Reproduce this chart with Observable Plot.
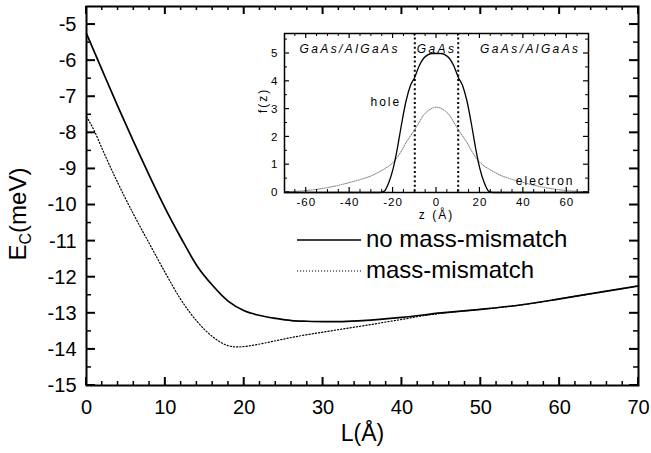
<!DOCTYPE html>
<html><head><meta charset="utf-8">
<script src="https://cdn.jsdelivr.net/npm/d3@7"></script>
<script src="https://cdn.jsdelivr.net/npm/@observablehq/plot@0.6"></script>
<style>
body{margin:0;background:#fff;}
#wrap{position:relative;width:651px;height:453px;overflow:hidden;}
#wrap > svg{position:absolute;left:0;top:0;}
#inset{position:absolute;left:220px;top:20px;}
</style></head><body><div id="wrap"><div id="inset"></div></div>
<script>
// ---- main chart data ----
const L = [0,2,4,6,8,10,12,14,16,18,20,22,24,26,28,30,32,35,40,45,50,55,60,65,70];
const noMismatch = [-5.25,-6.27,-7.28,-8.26,-9.2,-10.1,-10.92,-11.68,-12.23,-12.67,-12.93,-13.06,-13.14,-13.2,-13.22,-13.23,-13.23,-13.2,-13.11,-12.99,-12.89,-12.77,-12.6,-12.42,-12.24];
const Lm = [0,1,2,4,6,8,10,12,14,16,18,19,20,22,24,26,28,30,32,35,38,40,42,45,50,55,60,65,70];
const mismatch = [-7.55,-7.95,-8.45,-9.4,-10.27,-11.08,-11.88,-12.63,-13.22,-13.65,-13.9,-13.93,-13.92,-13.85,-13.76,-13.67,-13.59,-13.52,-13.45,-13.35,-13.24,-13.17,-13.09,-13.0,-12.89,-12.77,-12.6,-12.42,-12.24];
const xTicks = [0,10,20,30,40,50,60,70];
const yTicks = [-15,-14,-13,-12,-11,-10,-9,-8,-7,-6,-5];
const legendLabels = ["no mass-mismatch","mass-mismatch"];
const xTitle = "L(Å)";

// ---- inset data ----
const z = [-70,-60,-50,-45,-40,-35,-30,-26,-24,-22,-20,-18,-16,-14,-12,-10,-8,-6,-4,-2,0,2,4,6,8,10,12,14,16,18,20,22,24,26,30,35,40,45,50,60,70];
const hole = [0,0,0,0,0,0,0,0,0.05,0.35,0.85,1.6,2.5,3.3,3.85,4.15,4.55,4.82,4.95,5.0,5.0,5.0,4.95,4.82,4.55,4.15,3.85,3.3,2.5,1.6,0.85,0.35,0.05,0,0,0,0,0,0,0,0];
const electron = [0.03,0.07,0.18,0.26,0.36,0.47,0.6,0.76,0.85,0.95,1.08,1.27,1.52,1.8,2.03,2.27,2.52,2.78,2.93,3.03,3.07,3.03,2.93,2.78,2.52,2.27,2.03,1.8,1.52,1.27,1.08,0.95,0.85,0.76,0.6,0.47,0.36,0.26,0.18,0.07,0.03];
const zTicks = [-60,-40,-20,0,20,40,60];
const fTicks = [0,1,2,3,4,5];
const wellEdges = [-10,10];
const regionLabels = ["GaAs/AlGaAs","GaAs","GaAs/AlGaAs"];
const curveLabels = ["hole","electron"];
const insetTitles = ["z (Å)","f(z)"];

const font = '"Liberation Sans", Arial, Helvetica, sans-serif';
const fmt = d => String(d);

// inward ticks on all four sides, placed with the plot's own scales
function inwardTicks(node, dims, xs, ys) {
  const sx = node.scale("x"), sy = node.scale("y");
  const {left, right, top, bottom} = dims;
  const g = d3.select(node).append("g").attr("stroke", "#000").attr("fill", "none");
  for (const t of xs) {
    for (const v of t.values) {
      const x = sx.apply(v);
      g.append("line").attr("x1", x).attr("x2", x).attr("y1", bottom).attr("y2", bottom - t.len).attr("stroke-width", t.sw);
      g.append("line").attr("x1", x).attr("x2", x).attr("y1", top).attr("y2", top + t.len).attr("stroke-width", t.sw);
    }
  }
  for (const t of ys) {
    for (const v of t.values) {
      const y = sy.apply(v);
      g.append("line").attr("y1", y).attr("y2", y).attr("x1", left).attr("x2", left + t.len).attr("stroke-width", t.sw);
      g.append("line").attr("y1", y).attr("y2", y).attr("x1", right).attr("x2", right - t.len).attr("stroke-width", t.sw);
    }
  }
}

// ---- main plot ----
const W=651,H=453,mL=86,mR=13,mT=6,mB=68;
const xMinor = d3.range(0,70.01,2).filter(v=>v%10!==0);
const yMinor = d3.range(-14.5,-4.5,1);

const main = Plot.plot({
  width:W,height:H,marginLeft:mL,marginRight:mR,marginTop:mT,marginBottom:mB,
  style:{fontFamily:font,color:"#000",background:"#fff",overflow:"visible"},
  x:{domain:[0,70]}, y:{domain:[-15,-4.5]},
  marks:[
    Plot.axisX(xTicks,{tickSize:0,tickPadding:14,fontSize:20,tickFormat:fmt,label:null}),
    Plot.axisY(yTicks,{tickSize:0,tickPadding:10,fontSize:20,tickFormat:fmt,label:null}),
    Plot.line({length:Lm.length},{x:Lm,y:mismatch,curve:"monotone-x",strokeWidth:1.2,strokeDasharray:"1.2,2"}),
    Plot.line({length:L.length},{x:L,y:noMismatch,curve:"monotone-x",strokeWidth:1.7}),
    Plot.text([xTitle],{frameAnchor:"bottom",dy:55,fontSize:23}),
    Plot.frame({strokeWidth:2})
  ]
});
document.getElementById("wrap").prepend(main);
inwardTicks(main, {left:mL,right:W-mR,top:mT,bottom:H-mB},
  [{values:xTicks,len:8,sw:2},{values:xMinor,len:4,sw:1.5}],
  [{values:yTicks,len:9,sw:2},{values:yMinor,len:5,sw:1.5}]);

const svg = d3.select(main);
// y title with subscript
const yt = svg.append("text")
  .attr("transform","translate(26,214) rotate(-90)")
  .attr("text-anchor","middle")
  .attr("font-size",24).attr("font-family",font).attr("fill","#000");
yt.append("tspan").text("E");
yt.append("tspan").attr("font-size",16).attr("dy",5).text("C");
yt.append("tspan").attr("dy",-5).text("(meV)");

// legend
const lg = svg.append("g").attr("font-family",font).attr("font-size",24).attr("fill","#000").attr("text-anchor","start");
lg.append("line").attr("x1",297).attr("x2",361).attr("y1",240).attr("y2",240).attr("stroke","#000").attr("stroke-width",1.6);
lg.append("line").attr("x1",297).attr("x2",361).attr("y1",271).attr("y2",271).attr("stroke","#000").attr("stroke-width",1.1).attr("stroke-dasharray","1.1,1.9");
lg.append("text").attr("x",366).attr("y",247).text(legendLabels[0]);
lg.append("text").attr("x",366).attr("y",278).text(legendLabels[1]);

// ---- inset ----
const iW=380,iH=205,imL=64,imR=12,imT=13,imB=33;
const zMinor = d3.range(-65,70,5).filter(v=>v%20!==0);
const fMinor = d3.range(0.5,5.7,1);

const inset = Plot.plot({
  width:iW,height:iH,marginLeft:imL,marginRight:imR,marginTop:imT,marginBottom:imB,
  style:{fontFamily:font,color:"#000",background:"transparent",overflow:"visible",letterSpacing:"1px"},
  x:{domain:[-70,70]}, y:{domain:[0,5.72]},
  marks:[
    Plot.axisX(zTicks,{tickSize:0,tickPadding:5,fontSize:11.5,tickFormat:fmt,label:null}),
    Plot.axisY(fTicks,{tickSize:0,tickPadding:6,fontSize:11.5,tickFormat:fmt,label:null}),
    Plot.ruleX(wellEdges,{x:d=>d,strokeWidth:2,strokeDasharray:"2,2.6"}),
    Plot.line({length:z.length},{x:z,y:electron,curve:"monotone-x",stroke:"#777",strokeWidth:1,strokeDasharray:"1,1.2"}),
    Plot.line({length:z.length},{x:z,y:hole,curve:"monotone-x",strokeWidth:1.3}),
    Plot.text([regionLabels[0]],{frameAnchor:"top-left",dx:15,dy:11,textAnchor:"start",fontStyle:"italic",fontSize:12}),
    Plot.text([regionLabels[1]],{x:[d3.mean(wellEdges)],frameAnchor:"top",dy:11,fontStyle:"italic",fontSize:12}),
    Plot.text([regionLabels[2]],{frameAnchor:"top-right",dx:-8,dy:11,textAnchor:"end",fontStyle:"italic",fontSize:12}),
    Plot.text([curveLabels[0]],{frameAnchor:"top-left",dx:86,dy:64,textAnchor:"start",fontSize:12}),
    Plot.text([curveLabels[1]],{frameAnchor:"bottom-right",dx:-14,dy:-8,textAnchor:"end",fontSize:12}),
    Plot.text([insetTitles[0]],{frameAnchor:"bottom",dy:26,fontSize:12}),
    Plot.text([insetTitles[1]],{frameAnchor:"left",dx:-21,rotate:-90,fontSize:12}),
    Plot.frame({strokeWidth:1.5})
  ]
});
document.getElementById("inset").appendChild(inset);
inwardTicks(inset, {left:imL,right:iW-imR,top:imT,bottom:iH-imB},
  [{values:zTicks,len:5,sw:1.2},{values:zMinor,len:3,sw:1}],
  [{values:fTicks,len:5,sw:1.2},{values:fMinor,len:3,sw:1}]);
// wider letter spacing for the in-plot labels
d3.select(inset).selectAll("text").each(function(){
  const t = this.textContent;
  if (regionLabels.includes(t)) this.setAttribute("letter-spacing","2.4px");
  else if (curveLabels.includes(t) || insetTitles.includes(t)) this.setAttribute("letter-spacing","2px");
});
</script>
</body></html>
